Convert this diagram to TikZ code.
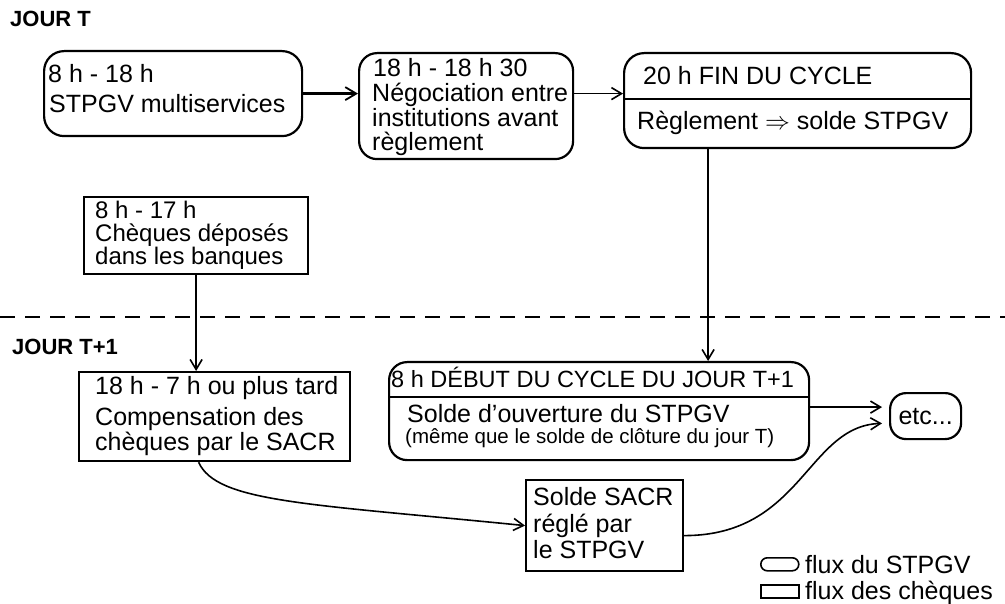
\documentclass[tikz,border=0pt]{standalone}
\usepackage{fontspec}
\setmainfont{Liberation Sans}
\usetikzlibrary{arrows.meta}
\begin{document}
\begin{tikzpicture}[x=1pt,y=-1pt,
  txt/.style={anchor=base west, inner sep=0pt, font=\fontsize{25}{25}\selectfont},
  txtb/.style={anchor=base west, inner sep=0pt, font=\fontsize{24}{24}\selectfont},
  small/.style={anchor=base west, inner sep=0pt, font=\fontsize{20.5}{20.5}\selectfont},
  hd/.style={anchor=base west, inner sep=0pt, font=\fontsize{22}{22}\selectfont\bfseries},
  rbox/.style={draw, line width=2.2pt, rounded corners=18pt, inner sep=0pt, anchor=north west},
  sbox/.style={draw, line width=2.2pt, inner sep=0pt, anchor=north west},
  divline/.style={line width=1.8pt},
  arr/.style={line width=1.6pt, -{Straight Barb[length=10pt,width=12pt,line width=1.6pt]}},
  thickarr/.style={line width=3.2pt, -{Straight Barb[length=11pt,width=13pt,line width=1.8pt]}},
]
\useasboundingbox (0,0) rectangle (1005,604);

% headings
\node[hd] (jt) at (10,27) {JOUR T};
\node[hd] (jt1) at (12,355) {JOUR T+1};
\coordinate (dl1) at (0,317);
\coordinate (dl2) at (1005,317);
\draw[line width=1.6pt, dash pattern=on 15pt off 10pt] (dl1) -- (dl2);

% box 1
\node[rbox, rounded corners=20pt, minimum width=258pt, minimum height=85pt] (b1) at (43,50) {};
\node[txt] (t1a) at (48,83) {8 h - 18 h};
\node[txt] (t1b) at (49,113) {STPGV multiservices};

% box 2
\node[rbox, minimum width=214pt, minimum height=106pt] (b2) at (358,52) {};
\node[txt] (t2a) at (373,77) {18 h - 18 h 30};
\node[txt] (t2b) at (372,102) {Négociation entre};
\node[txt] (t2c) at (372,127) {institutions avant};
\node[txt] (t2d) at (372,151) {règlement};

% box 3
\node[rbox, rounded corners=20pt, minimum width=347pt, minimum height=95pt] (b3) at (623,52) {};
\coordinate (d3) at (0,99);
\draw[divline] (b3.west |- d3) -- (b3.east |- d3);
\node[txt] (t3a) at (643,85) {20 h FIN DU CYCLE};
\node[txt] (t3b) at (637,130) {Règlement $\Rightarrow$ solde STPGV};

% box 4
\node[sbox, minimum width=224pt, minimum height=77pt] (b4) at (83,196) {};
\node[txtb] (t4a) at (95,219) {8 h - 17 h};
\node[txtb] (t4b) at (95,242) {Chèques déposés};
\node[txtb] (t4c) at (95,265) {dans les banques};

% box 5
\node[sbox, minimum width=271pt, minimum height=89pt] (b5) at (78,371) {};
\node[txt] (t5a) at (95,395) {18 h - 7 h ou plus tard};
\node[txt] (t5b) at (95,425) {Compensation des};
\node[txt] (t5c) at (95,450) {chèques par le SACR};

% box 6
\node[rbox, minimum width=420pt, minimum height=98pt] (b6) at (388,361) {};
\coordinate (d6) at (0,397);
\draw[divline] (b6.west |- d6) -- (b6.east |- d6);
\node[anchor=base west, inner sep=0pt, font=\fontsize{23.5}{23.5}\selectfont] (t6a) at (391,388) {8 h DÉBUT DU CYCLE DU JOUR T+1};
\node[txt] (t6b) at (407,422) {Solde d’ouverture du STPGV};
\node[small] (t6c) at (405,443) {(même que le solde de clôture du jour T)};

% box 7
\node[sbox, minimum width=157pt, minimum height=91pt] (b7) at (525,479) {};
\node[txt] (t7a) at (533,505) {Solde SACR};
\node[txt] (t7b) at (533,532) {réglé par};
\node[txt] (t7c) at (533,558) {le STPGV};

% etc
\node[rbox, rounded corners=16pt, minimum width=71pt, minimum height=46pt, font=\fontsize{25}{25}\selectfont] (etc) at (889,392) {etc...};

% connectors
\draw[thickarr] (b1.east) -- (b1.east -| b2.west);
\draw[arr] (b2.east |- b1.east) -- (b3.west |- b1.east);
\draw[arr] ([xshift=-89.5pt]b3.south) -- ([xshift=-89.5pt]b3.south |- b6.north);
\draw[arr] (b4.south) -- (b4.south |- b5.north);
\draw[arr] ([xshift=-16pt]b5.south) .. controls +(18,40) and +(-220,-22) .. (b7.west);
\draw[arr, shorten >=7pt] ([yshift=4pt]b6.east) -- ([yshift=4pt]b6.east -| etc.west);
\draw[arr, shorten >=7pt] ([yshift=-10pt]b7.east) .. controls +(118,0) and +(-82,3) .. ([yshift=-7pt]etc.west);

% legend
\node[rbox, line width=1.6pt, rounded corners=6.5pt, minimum width=38pt, minimum height=13pt] (lg1) at (760,557) {};
\node[sbox, line width=1.6pt, minimum width=38pt, minimum height=13pt] (lg2) at (760,584) {};
\node[txt] (lt1) at (805,573) {flux du STPGV};
\node[txt] (lt2) at (805,599) {flux des chèques};
\end{tikzpicture}
\end{document}
